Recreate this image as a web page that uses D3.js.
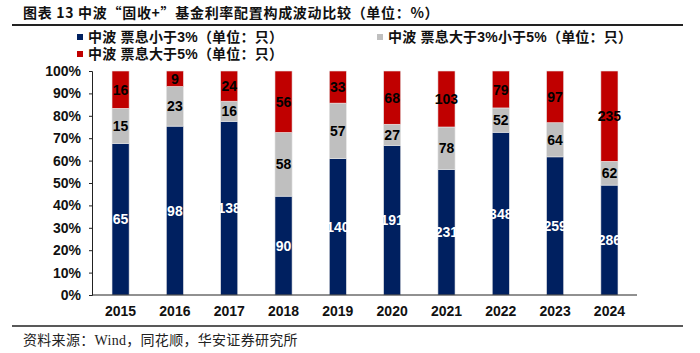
<!DOCTYPE html>
<html>
<head>
<meta charset="utf-8">
<script src="https://cdn.jsdelivr.net/npm/d3@7"></script>
<style>
  body { margin: 0; background: #fff; }
  text { font-family: "Liberation Sans", "Noto Sans CJK SC", sans-serif; }
</style>
</head>
<body>
<div id="chart"></div>
<script>
// data (units: number of funds)
var years = ["2015", "2016", "2017", "2018", "2019", "2020", "2021", "2022", "2023", "2024"];
var below3 = [65, 98, 138, 90, 140, 191, 231, 348, 259, 286];
var from3to5 = [15, 23, 16, 58, 57, 27, 78, 52, 64, 62];
var above5 = [16, 9, 24, 56, 33, 68, 103, 79, 97, 235];
var seriesNames = ["中波 票息小于3%（单位：只）", "中波 票息大于3%小于5%（单位：只）", "中波 票息大于5%（单位：只）"];
var yTicks = [0, 0.1, 0.2, 0.3, 0.4, 0.5, 0.6, 0.7, 0.8, 0.9, 1];

function init() {
    var w = 700;
    var h = 353;
    var colors = ["#002060", "#bfbfbf", "#c00000"];
    var labelColors = ["#fff", "#000", "#000"];
    var keys = ["low", "mid", "high"];

    var dataset = years.map(function(y, i) {
        return { year: y, low: below3[i], mid: from3to5[i], high: above5[i] };
    });

    var svg = d3.select("#chart")
        .append("svg")
        .attr("width", w)
        .attr("height", h);

    // title + rules
    svg.append("text")
        .attr("x", 23)
        .attr("y", 18)
        .attr("font-size", "14px")
        .attr("letter-spacing", "0.7px")
        .attr("font-weight", "bold")
        .attr("fill", "#111")
        .style("font-family", "'Noto Sans CJK SC', sans-serif")
        .text("图表 13 中波“固收+”基金利率配置构成波动比较（单位：%）");

    svg.append("line")
        .attr("x1", 12).attr("x2", 683)
        .attr("y1", 25).attr("y2", 25)
        .attr("stroke", "#222").attr("stroke-width", 2);

    svg.append("line")
        .attr("x1", 12).attr("x2", 683)
        .attr("y1", 326).attr("y2", 326)
        .attr("stroke", "#222").attr("stroke-width", 1.5);

    svg.append("text")
        .attr("x", 23)
        .attr("y", 345)
        .attr("font-size", "14px")
        .attr("letter-spacing", "0.3px")
        .attr("fill", "#222")
        .style("font-family", "'Liberation Serif', 'Noto Sans CJK SC', serif")
        .text("资料来源：Wind，同花顺，华安证券研究所");

    // scales
    var xScale = d3.scaleBand()
        .domain(years)
        .range([93, 637])
        .paddingInner(0.685)
        .paddingOuter(0.35);

    var yScale = d3.scaleLinear()
        .domain([0, 1])
        .range([295, 71]);

    var stack = d3.stack()
        .keys(keys)
        .offset(d3.stackOffsetExpand);
    var series = stack(dataset);

    var groups = svg.selectAll("g.layer")
        .data(series)
        .enter()
        .append("g")
        .attr("class", "layer")
        .attr("fill", (d, i) => colors[i]);

    groups.selectAll("rect")
        .data(d => d)
        .enter()
        .append("rect")
        .attr("x", d => xScale(d.data.year))
        .attr("y", d => yScale(d[1]))
        .attr("width", xScale.bandwidth())
        .attr("height", d => yScale(d[0]) - yScale(d[1]))
        .attr("stroke", "#e8e8e8")
        .attr("stroke-width", 0.6);

    // value labels
    series.forEach(function(s, i) {
        svg.selectAll(null)
            .data(s)
            .enter()
            .append("text")
            .attr("x", d => xScale(d.data.year) + xScale.bandwidth() / 2)
            .attr("y", d => yScale((d[0] + d[1]) / 2))
            .attr("dy", "0.36em")
            .attr("text-anchor", "middle")
            .attr("font-size", "14px")
            .attr("font-weight", "bold")
            .attr("fill", labelColors[i])
            .text(d => d.data[keys[i]]);
    });

    // axes
    var yAxis = d3.axisLeft(yScale)
        .tickValues(yTicks)
        .tickFormat(d3.format(".0%"))
        .tickSize(3)
        .tickPadding(8);

    var gy = svg.append("g")
        .attr("transform", "translate(92,0)")
        .call(yAxis);
    gy.selectAll("text")
        .attr("font-size", "14px")
        .attr("font-weight", "bold")
        .attr("fill", "#111")
        .style("font-family", "'Liberation Sans', sans-serif");
    gy.selectAll("line, path").attr("stroke", "#222");

    var xAxis = d3.axisBottom(xScale)
        .tickSize(0)
        .tickPadding(11);

    var gx = svg.append("g")
        .attr("transform", "translate(0,295)")
        .call(xAxis);
    gx.select(".domain").attr("d", "M92,0H637").attr("stroke", "#222");
    gx.selectAll("text")
        .attr("font-size", "14px")
        .attr("font-weight", "bold")
        .attr("fill", "#111")
        .style("font-family", "'Liberation Sans', sans-serif");

    // legend
    var legendPos = [[77, 37], [377, 37], [77, 54]];
    var legend = svg.selectAll("g.legend")
        .data(seriesNames)
        .enter()
        .append("g")
        .attr("class", "legend")
        .attr("transform", (d, i) => "translate(" + legendPos[i][0] + "," + legendPos[i][1] + ")");

    legend.append("rect")
        .attr("x", 0)
        .attr("y", -3)
        .attr("width", 6)
        .attr("height", 6)
        .attr("fill", (d, i) => colors[i]);

    legend.append("text")
        .attr("x", 11)
        .attr("y", 0)
        .attr("dy", "0.36em")
        .attr("font-size", "14px")
        .attr("letter-spacing", "0.2px")
        .attr("font-weight", "bold")
        .attr("fill", "#111")
        .text(d => d);
}

window.onload = init;
</script>
</body>
</html>
